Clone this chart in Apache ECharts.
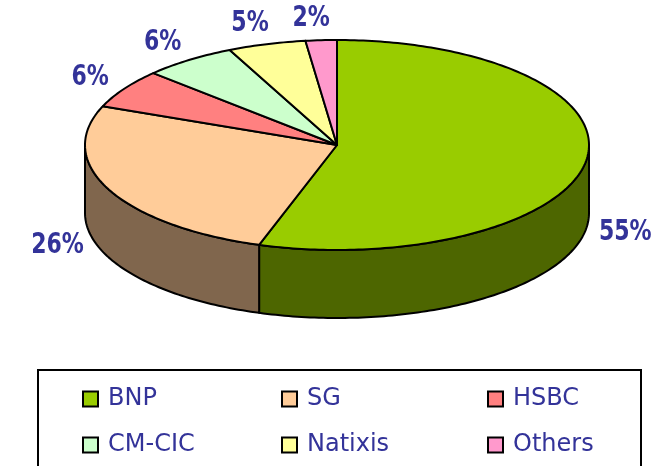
<!DOCTYPE html>
<html>
<head>
<meta charset="utf-8">
<script src="https://cdn.jsdelivr.net/npm/echarts@6/dist/echarts.min.js"></script>
<style>
  html, body { margin: 0; padding: 0; background: #fff; }
  #main { width: 656px; height: 466px; }
</style>
</head>
<body>
<div id="main"></div>
<script>
var names = ['BNP', 'SG', 'HSBC', 'CM-CIC', 'Natixis', 'Others'];
var values = [55, 26, 6, 6, 5, 2];
var topColors = ['#99CC00', '#FFCC99', '#FF8080', '#CCFFCC', '#FFFF99', '#FF99CC'];
var sideColors = ['#4D6600', '#80664D', '#804040', '#668066', '#80804D', '#804D66'];

var total = values.reduce(function (a, b) { return a + b; }, 0);
var starts = [];
var acc = 0;
values.forEach(function (v) { starts.push(acc / total * 360); acc += v; });

// pie geometry (top ellipse + depth)
var cx = 337, cy = 145, rx = 252, ry = 105, depth = 68;

function arc(a0, a1, dy) {
  var pts = [];
  var n = Math.max(2, Math.ceil(a1 - a0));
  for (var k = 0; k <= n; k++) {
    var a = (a0 + (a1 - a0) * k / n) * Math.PI / 180;
    pts.push([cx + rx * Math.sin(a), cy - ry * Math.cos(a) + dy]);
  }
  return pts;
}

function makeRender(i) {
  return function (params, api) {
    var a0 = starts[i];
    var a1 = a0 + api.value(0) / total * 360;
    var children = [];
    var s = Math.max(a0, 90), e = Math.min(a1, 270);
    if (e > s) {
      children.push({
        type: 'polygon',
        shape: { points: arc(s, e, 0).concat(arc(s, e, depth).reverse()) },
        style: { fill: sideColors[i], stroke: '#000', lineWidth: 2, lineJoin: 'round' }
      });
    }
    children.push({
      type: 'polygon',
      shape: { points: [[cx, cy]].concat(arc(a0, a1, 0)) },
      style: { fill: topColors[i], stroke: '#000', lineWidth: 2, lineJoin: 'round' }
    });
    var mid = (a0 + a1) / 2 * Math.PI / 180;
    var c = Math.cos(mid);
    var front = c < 0;
    children.push({
      type: 'text',
      x: cx - 8 + (front ? 300 : 283) * Math.sin(mid),
      y: cy - (front ? 48 : 126) * c + (front ? 80 : 0),
      scaleY: 1.25,
      style: {
        text: Math.round(api.value(0) / total * 100) + '%',
        fill: '#333399',
        font: 'bold 22px "DejaVu Sans"',
        align: 'center',
        verticalAlign: 'middle'
      }
    });
    return { type: 'group', children: children };
  };
}

var series = names.map(function (n, i) {
  return {
    type: 'custom',
    name: n,
    coordinateSystem: 'none',
    itemStyle: { color: topColors[i] },
    renderItem: makeRender(i),
    data: [[values[i]]]
  };
});

var colLeft = [82, 281, 487];
var legends = [0, 1, 2].map(function (c) {
  return {
    orient: 'vertical',
    left: colLeft[c],
    top: 387,
    padding: 0,
    data: [names[c], names[c + 3]],
    icon: 'rect',
    itemWidth: 15,
    itemHeight: 15,
    itemGap: 22,
    selectedMode: false,
    itemStyle: { borderColor: '#000', borderWidth: 2 },
    textStyle: { fontSize: 24, lineHeight: 24, color: '#333399', fontFamily: 'DejaVu Sans', padding: [0, 0, 0, 5] }
  };
});

var myChart = echarts.init(document.getElementById('main'));
myChart.setOption({
  animation: false,
  backgroundColor: '#fff',
  legend: legends,
  graphic: [{
    type: 'rect',
    shape: { x: 38, y: 370, width: 603, height: 120 },
    style: { fill: 'none', stroke: '#000', lineWidth: 2 }
  }],
  series: series
});
</script>
</body>
</html>
